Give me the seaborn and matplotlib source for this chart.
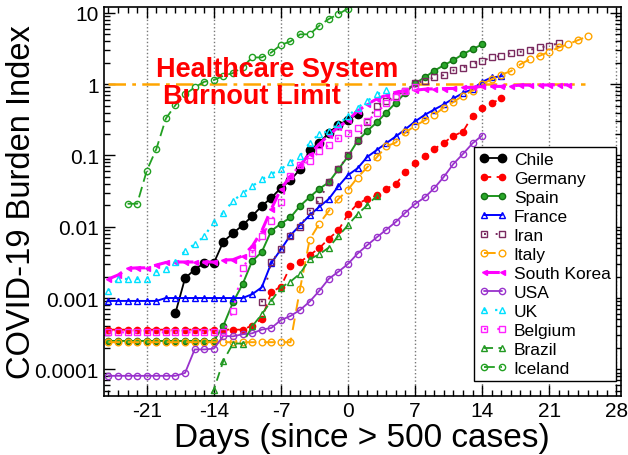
import numpy as np
import seaborn as sns
import matplotlib
matplotlib.use("Agg")
import matplotlib.pyplot as plt
from matplotlib.ticker import MultipleLocator, LogLocator, NullFormatter

# ---- data (burden index per day since 500 cases) ----
countries = ["Chile", "Germany", "Spain", "France", "Iran", "Italy",
             "South Korea", "USA", "UK", "Belgium", "Brazil", "Iceland"]

chile_start = -18
chile = [0.00062, 0.0019, 0.0025, 0.0031, 0.0031, 0.0062, 0.0081, 0.0105,
         0.0141, 0.0195, 0.0255, 0.035, 0.045, 0.064, 0.119, 0.148, 0.209,
         0.266, 0.318, 0.38]

germany_start = -25
germany = [3.6e-4, 3.6e-4, 3.6e-4, 3.6e-4, 3.6e-4, 3.6e-4, 3.6e-4, 3.6e-4,
           3.6e-4, 3.6e-4, 3.6e-4, 3.6e-4, 3.6e-4, 3.6e-4, 3.6e-4,
           4.1e-4, 5.1e-4, 1.2e-3, 1.45e-3, 2.8e-3, 3.2e-3, 4.0e-3, 5.0e-3,
           6.8e-3, 8.9e-3, 0.015, 0.021, 0.0245, 0.0275, 0.034, 0.040, 0.058,
           0.078, 0.098, 0.123, 0.151, 0.188, 0.216, 0.36, 0.46, 0.54, 0.63]

spain_start = -25
spain = [2.5e-4, 2.5e-4, 2.5e-4, 2.5e-4, 2.5e-4, 2.5e-4, 2.5e-4, 2.5e-4,
         2.5e-4, 2.5e-4, 2.5e-4, 2.5e-4,
         4.1e-4, 8.7e-4, 1.56e-3, 3.3e-3, 4.4e-3, 8.8e-3, 0.011, 0.0135,
         0.0196, 0.026, 0.034, 0.042, 0.064, 0.097, 0.16, 0.22, 0.29, 0.40,
         0.55, 0.76, 1.03, 1.24, 1.54, 1.84, 2.17, 2.63, 3.1, 3.6]

france_start = -25
france = [9.1e-4, 9.1e-4, 9.1e-4, 9.1e-4, 9.1e-4, 9.1e-4,
          1.0e-3, 1.0e-3, 1.0e-3, 1.0e-3, 1.0e-3, 1.0e-3, 1.0e-3, 1.0e-3,
          1.0e-3,
          1.13e-3, 1.41e-3, 3.1e-3, 4.8e-3, 7.6e-3, 0.0105, 0.0145, 0.019,
          0.0245, 0.037, 0.053, 0.066, 0.095, 0.119, 0.149, 0.185, 0.234,
          0.30, 0.37, 0.44, 0.52, 0.63, 0.75, 0.85, 1.08, 1.24, 1.29]

iran_start = -9
iran = [8.7e-4, 3.2e-3, 4.8e-3, 7.3e-3, 0.010, 0.0167, 0.0236, 0.042, 0.064,
        0.10, 0.164, 0.29, 0.50, 0.58, 0.69, 0.81, 1.03, 1.11, 1.24, 1.34,
        1.56, 1.71, 1.91, 2.12, 2.37, 2.5, 2.72, 2.84, 3.03, 3.27, 3.44, 3.76]

italy_start = -25
italy = [2.4e-4, 2.4e-4, 2.4e-4, 2.4e-4, 2.4e-4, 2.4e-4, 2.4e-4, 2.4e-4,
         2.4e-4, 2.4e-4, 2.4e-4, 2.4e-4, 2.4e-4, 2.4e-4, 2.4e-4, 2.4e-4,
         2.4e-4, 2.4e-4, 2.4e-4, 2.4e-4,
         1.35e-3, 6.6e-3, 0.011, 0.0167, 0.0245, 0.033, 0.049, 0.068, 0.094,
         0.134, 0.152, 0.21, 0.26, 0.31, 0.37, 0.47, 0.56, 0.69, 0.81, 1.0,
         1.17, 1.36, 1.52, 1.9, 2.24, 2.5, 2.84, 3.27, 3.64, 4.14, 4.67]

korea_start = -25
korea = [1.85e-3, 2.1e-3, 2.6e-3, 2.65e-3, 2.65e-3, 2.9e-3, 3.15e-3, 3.2e-3,
         3.2e-3, 3.2e-3, 3.2e-3, 3.2e-3, 3.4e-3, 3.45e-3, 3.9e-3, 5.3e-3,
         8.7e-3, 0.0177, 0.034, 0.051, 0.073, 0.105, 0.144, 0.193, 0.25,
         0.31, 0.42, 0.52, 0.62, 0.70, 0.77, 0.81, 0.82, 0.85, 0.86, 0.865,
         0.87, 0.90, 0.90, 0.93, 0.93, 0.93, 0.945, 0.97, 0.97, 0.97, 0.975,
         0.98, 0.98]

usa_start = -25
usa = [8.1e-5, 8.1e-5, 8.1e-5, 8.1e-5, 8.1e-5, 8.1e-5, 8.1e-5, 8.1e-5,
       8.9e-5, 1.9e-4, 1.9e-4, 1.95e-4, 2.95e-4, 2.9e-4, 3.1e-4, 3.2e-4,
       3.6e-4, 3.8e-4, 4.9e-4, 5.6e-4, 6.8e-4, 8.9e-4, 1.26e-3, 1.86e-3,
       2.34e-3, 3.0e-3, 4.2e-3, 5.5e-3, 7.1e-3, 9.1e-3, 0.0117, 0.0158,
       0.0209, 0.0257, 0.0347, 0.050, 0.076, 0.105, 0.148, 0.19]

uk_start = -25
uk = [1.26e-3, 1.85e-3, 1.85e-3, 1.85e-3, 1.85e-3, 2.34e-3, 2.56e-3, 3.2e-3,
      4.6e-3, 5.7e-3, 7.3e-3, 0.0117, 0.0158, 0.023, 0.0295, 0.037, 0.046,
      0.055, 0.064, 0.081, 0.099, 0.15, 0.20, 0.22, 0.275, 0.355, 0.47, 0.58,
      0.72, 0.82]

belgium_start = -25
belgium = [3.3e-4, 3.3e-4, 3.3e-4, 3.3e-4, 3.3e-4, 3.3e-4, 3.3e-4, 3.3e-4,
           3.3e-4, 3.3e-4, 3.3e-4, 3.3e-4, 3.3e-4,
           6.6e-4, 2.6e-3, 4.3e-3, 7.4e-3, 0.012, 0.022, 0.052, 0.073, 0.083,
           0.115, 0.14, 0.175, 0.205, 0.24, 0.30, 0.40, 0.54, 0.66, 0.80, 0.91]

brazil_start = -15
brazil = [3e-5, 5.2e-5, 1.32e-4, 2.3e-4, 2.3e-4, 4.0e-4, 5.9e-4, 9.1e-4,
          1.4e-3, 1.7e-3, 2.2e-3, 3.5e-3, 4.1e-3, 5.1e-3, 7.4e-3, 0.0105,
          0.015, 0.020, 0.027]

iceland_start = -23
iceland = [0.021, 0.021, 0.061, 0.123, 0.33, 0.51, 0.72, 0.90, 1.08, 1.14,
           1.31, 1.43, 1.73, 2.37, 2.37, 2.78, 3.56, 3.97, 5.0, 5.0, 6.6, 8.2,
           9.6, 11.5]

series = {
    "Chile": (chile_start, chile),
    "Germany": (germany_start, germany),
    "Spain": (spain_start, spain),
    "France": (france_start, france),
    "Iran": (iran_start, iran),
    "Italy": (italy_start, italy),
    "South Korea": (korea_start, korea),
    "USA": (usa_start, usa),
    "UK": (uk_start, uk),
    "Belgium": (belgium_start, belgium),
    "Brazil": (brazil_start, brazil),
    "Iceland": (iceland_start, iceland),
}

limit_days = [-25, 24.7]
limit_level = [1, 1]

x_ticks = [-21, -14, -7, 0, 7, 14, 21, 28]
y_ticks = [1e-4, 1e-3, 1e-2, 1e-1, 1, 10]
y_tick_labels = ["0.0001", "0.001", "0.01", "0.1", "1", "10"]

# ---- styles ----
styles = {
    "Chile": dict(color="black", marker="o", ms=6, mfc="black", mec="black", ls="-", lw=1.3),
    "Germany": dict(color="red", marker="o", ms=4.5, mfc="red", mec="red", ls=(0, (4, 3)), lw=1.3),
    "Spain": dict(color="#1e961e", marker="o", ms=4.5, mfc="#2aa82a", mec="#137013", ls="-", lw=1.4),
    "France": dict(color="#0000ff", marker="^", ms=4.5, mfc="none", mec="#0000ff", ls="-", lw=1.4),
    "Iran": dict(color="#7a2a60", marker="s", ms=4.2, mfc="none", mec="#7a2a60", ls=(0, (1, 5)), lw=1.4),
    "Italy": dict(color="#ffa500", marker="o", ms=4.8, mfc="none", mec="#ffa500", ls=(0, (6, 4)), lw=1.4),
    "South Korea": dict(color="#ff00ff", marker="<", ms=3.6, mfc="#ff00ff", mec="#ff00ff", ls=(0, (5, 3)), lw=2.2),
    "USA": dict(color="#9932cc", marker="o", ms=4.5, mfc="none", mec="#9932cc", ls="-", lw=1.3),
    "UK": dict(color="#00e0ff", marker="^", ms=4.5, mfc="none", mec="#00e0ff", ls=(0, (1, 4)), lw=1.6),
    "Belgium": dict(color="#ff22ff", marker="s", ms=4.2, mfc="none", mec="#ff22ff", ls=(0, (1, 5)), lw=1.6),
    "Brazil": dict(color="#229922", marker="^", ms=4.5, mfc="none", mec="#229922", ls=(0, (5, 3)), lw=1.3),
    "Iceland": dict(color="#22a022", marker="o", ms=4.5, mfc="none", mec="#22a022", ls=(0, (6, 3)), lw=1.3),
}

sns.set_style("ticks")
plt.rcParams["font.family"] = ["Liberation Sans", "DejaVu Sans"]
plt.rcParams["axes.unicode_minus"] = False
plt.rcParams["text.color"] = "black"
plt.rcParams["axes.labelcolor"] = "black"
plt.rcParams["xtick.color"] = "black"
plt.rcParams["ytick.color"] = "black"

fig = plt.figure(figsize=(6.28, 4.56), dpi=100)
ax = fig.add_axes([0.165, 0.130, 0.824, 0.852])
ax.set_yscale("log")

# healthcare burnout line
ax.plot(limit_days, limit_level, color="#ffa500", lw=1.8,
        ls=(0, (7, 2.5, 1.5, 2.5)), zorder=1.5)

for name in countries:
    start, vals = series[name]
    days = np.arange(start, start + len(vals))
    st = styles[name]
    sns.lineplot(x=days, y=vals, ax=ax, label=name, errorbar=None,
                 color=st["color"], marker=st["marker"], markersize=st["ms"],
                 markerfacecolor=st["mfc"], markeredgecolor=st["mec"],
                 markeredgewidth=1.0, linestyle=st["ls"], linewidth=st["lw"])

ax.text(-7.4, 1.62, "Healthcare System", color="red", fontsize=19.5,
        fontweight="bold", ha="center", va="center")
ax.text(-10.0, 0.68, "Burnout Limit", color="red", fontsize=19.5,
        fontweight="bold", ha="center", va="center")

ax.set_xlim(-25.5, 28.5)
ax.set_ylim(4.26e-5, 12.0)
ax.set_xticks(x_ticks)
ax.xaxis.set_minor_locator(MultipleLocator(1))
ax.set_yticks(y_ticks)
ax.set_yticklabels(y_tick_labels)
ax.yaxis.set_minor_locator(LogLocator(base=10, subs=np.arange(2, 10)))
ax.yaxis.set_minor_formatter(NullFormatter())
ax.tick_params(which="both", direction="in", top=True, right=True,
               labelsize=15, width=1, colors="black")
ax.tick_params(which="major", length=8)
ax.tick_params(which="minor", length=4)
ax.grid(axis="x", which="major", linestyle=":", color="#777777", lw=1)
ax.grid(axis="y", visible=False)
for sp in ax.spines.values():
    sp.set_linewidth(1.2)
    sp.set_color("black")

ax.set_xlabel("Days (since > 500 cases)", fontsize=24, labelpad=2)
ax.set_ylabel("COVID-19 Burden Index", fontsize=23.5)
ax.yaxis.set_label_coords(-0.128, 0.5)

leg = ax.legend(loc="lower right", bbox_to_anchor=(0.990, 0.038),
                borderaxespad=0, fontsize=12.5, numpoints=2, handlelength=1.6,
                handletextpad=0.4, labelspacing=0.22, borderpad=0.3,
                fancybox=False, framealpha=1, edgecolor="black")
leg.get_frame().set_linewidth(1.0)

fig.savefig("out.png", dpi=100)
